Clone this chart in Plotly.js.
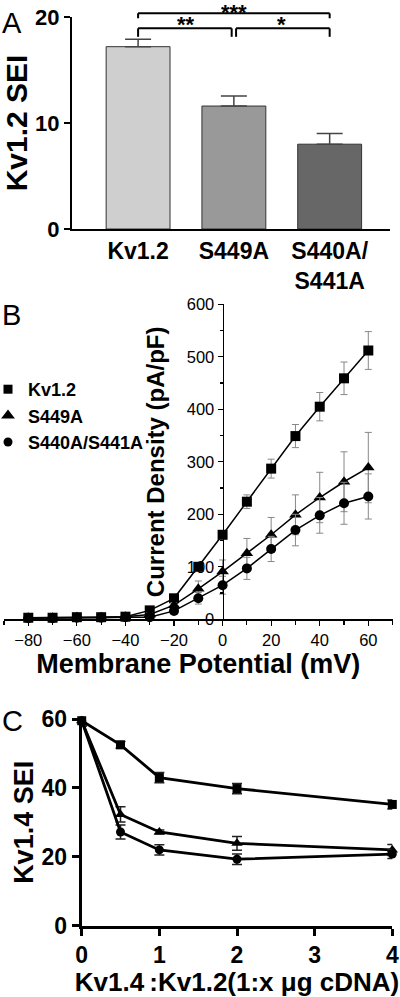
<!DOCTYPE html>
<html>
<head>
<meta charset="utf-8">
<script src="https://cdn.plot.ly/plotly-3.0.1.min.js"></script>
<style>
html,body{margin:0;padding:0;background:#fff;}
#chart{width:400px;height:997px;}
</style>
</head>
<body>
<div id="chart"></div>
<script>
// ---------- Panel A data ----------
const catsA = ['Kv1.2', 'S449A', 'S440A/<br>S441A'];
const seiA = [17.2, 11.6, 8.0];
const seiAErr = [0.7, 0.95, 1.0];
const sigPairs = [[0, 2], [0, 1], [1, 2]];
const sigLabels = ['***', '**', '*'];
const sigLevels = [20.35, 18.93, 18.93];

// ---------- Panel B data ----------
const voltB = [-80, -70, -60, -50, -40, -30, -20, -10, 0, 10, 20, 30, 40, 50, 60];
const kvB = [3, 3, 4, 4, 5, 17, 40, 100, 161, 224, 287, 349, 405, 459, 512];
const kvBErr = [1, 1, 1, 1, 1, 2, 3, 5, 8, 13, 18, 22, 27, 31, 36];
const s449B = [3, 3, 4, 4, 5, 9, 27, 58, 91, 126, 161, 199, 232, 262, 289];
const s449BErr = [1, 1, 1, 1, 1, 3, 5, 15, 22, 28, 33, 38, 48, 57, 67];
const s440B = [2, 2, 3, 3, 4, 4, 16, 40, 65, 97, 134, 170, 198, 221, 234];
const s440BErr = [1, 1, 1, 1, 1, 2, 4, 11, 17, 21, 24, 30, 34, 40, 43];
const seriesNames = ['Kv1.2', 'S449A', 'S440A/S441A'];

// ---------- Panel C data ----------
const ratioC = [0, 0.5, 1, 2, 4];
const kvC = [59.5, 52.5, 43.0, 39.8, 35.2];
const kvCErr = [1.5, 1.0, 1.5, 1.5, 1.3];
const s449C = [59.5, 32.3, 27.2, 23.9, 22.0];
const s449CErr = [1.5, 2.2, 0.6, 2.0, 1.6];
const s440C = [59.5, 27.2, 22.0, 19.3, 20.8];
const s440CErr = [1.5, 2.0, 1.5, 1.5, 1.3];

// ---------- styling ----------
const FONT = 'Arial, "Liberation Sans", Helvetica, sans-serif';
const barFills = ['#cfcfcf', '#999999', '#676767'];
const symbols = ['square', 'triangle-up', 'circle'];
const W = 400, H = 997;
const px = v => v / W;
const py = v => (H - v) / H;

const traces = [];

// Panel A bars
traces.push({
  type: 'bar', x: catsA, y: seiA, xaxis: 'x', yaxis: 'y',
  width: 0.667,
  marker: {color: barFills, line: {color: '#333', width: 1}},
  error_y: {type: 'data', array: seiAErr, arrayminus: seiA.map(() => 0), symmetric: false,
            color: '#444', thickness: 1.5, width: 13},
  showlegend: false, hoverinfo: 'skip'
});

// Panel B lines
const bSets = [[kvB, kvBErr], [s449B, s449BErr], [s440B, s440BErr]];
bSets.forEach((s, i) => {
  traces.push({
    type: 'scatter', mode: 'lines+markers', x: voltB, y: s[0], xaxis: 'x2', yaxis: 'y2',
    line: {color: '#000', width: 1.5},
    marker: {symbol: symbols[i], size: i === 1 ? 11 : 10, color: '#000'},
    error_y: {type: 'data', array: s[1], color: '#888', thickness: 1, width: 3.5},
    cliponaxis: false, showlegend: false, hoverinfo: 'skip'
  });
});
// Panel B legend entries (marker only)
seriesNames.forEach((n, i) => {
  traces.push({
    type: 'scatter', mode: 'markers', x: [null], y: [null], xaxis: 'x2', yaxis: 'y2',
    name: n,
    marker: {symbol: symbols[i], size: i === 1 ? 12 : 9, color: '#000'},
    showlegend: true, hoverinfo: 'skip'
  });
});

// Panel C lines
const cSets = [[kvC, kvCErr], [s449C, s449CErr], [s440C, s440CErr]];
cSets.forEach((s, i) => {
  traces.push({
    type: 'scatter', mode: 'lines+markers', x: ratioC, y: s[0], xaxis: 'x3', yaxis: 'y3',
    line: {color: '#000', width: 2.8},
    marker: {symbol: symbols[i], size: i === 1 ? 10 : 9, color: '#000'},
    error_y: {type: 'data', array: s[1], color: '#222', thickness: 1.5, width: 5},
    cliponaxis: false, showlegend: false, hoverinfo: 'skip'
  });
});

// Significance brackets (panel A), placed in axis-domain fractions
const xARange = [-0.69, 2.63];
const yARange = [0, 20];
const xDom = v => (v - xARange[0]) / (xARange[1] - xARange[0]);
const yDom = v => (v - yARange[0]) / (yARange[1] - yARange[0]);
const shapes = [];
const annotations = [];
sigPairs.forEach((p, k) => {
  const lvl = sigLevels[k];
  const drop = k === 0 ? 0.47 : 0.8;
  const x0 = p[0] + (k === 2 ? 0.023 : 0);
  const x1 = p[1] - (k === 1 ? 0.023 : 0);
  const seg = (xa, ya, xb, yb) => ({type: 'line', xref: 'x domain', yref: 'y domain',
    x0: xDom(xa), x1: xDom(xb), y0: yDom(ya), y1: yDom(yb), line: {color: '#000', width: 2}});
  shapes.push(seg(x0, lvl, x1, lvl));
  shapes.push(seg(x0, lvl, x0, lvl - drop));
  shapes.push(seg(x1, lvl, x1, lvl - drop));
  annotations.push({xref: 'x domain', yref: 'y domain', x: xDom((p[0] + p[1]) / 2), y: yDom(lvl),
    text: sigLabels[k], showarrow: false, yanchor: 'bottom', yshift: k === 0 ? -14 : -11,
    height: 23, valign: 'bottom',
    font: {family: FONT, size: 22, weight: 'bold', color: '#000'}});
});

// Panel letters
[['A', 5], ['B', 297], ['C', 703]].forEach(l => {
  annotations.push({xref: 'paper', yref: 'paper', x: 0, y: py(l[1]), xanchor: 'left', yanchor: 'top',
    text: l[0], showarrow: false, font: {family: FONT, size: 29, color: '#000'}});
});

const axBase = {showgrid: false, zeroline: false, color: '#000', linecolor: '#000', showline: true,
                fixedrange: true, automargin: false};

const layout = {
  width: W, height: H,
  margin: {l: 0, r: 0, t: 0, b: 0, autoexpand: false},
  paper_bgcolor: '#fff', plot_bgcolor: 'rgba(0,0,0,0)',
  font: {family: FONT, color: '#000'},
  showlegend: true,
  legend: {x: 0, y: py(371), xanchor: 'left', yanchor: 'top', bgcolor: 'rgba(0,0,0,0)',
           font: {family: FONT, size: 18, weight: 'bold'}, itemwidth: 30, indentation: -12,
           traceorder: 'normal'},
  // Panel A
  xaxis: Object.assign({}, axBase, {domain: [px(72), px(390)], anchor: 'y', type: 'category',
    range: xARange, linewidth: 2, ticks: '',
    tickfont: {family: FONT, size: 23, weight: 'bold'}}),
  yaxis: Object.assign({}, axBase, {domain: [py(229), py(17)], anchor: 'x', range: yARange, dtick: 10,
    ticks: 'outside', ticklen: 6, tickwidth: 2, linewidth: 2,
    tickfont: {family: FONT, size: 22, weight: 'bold'},
    title: {text: 'Kv1.2 SEI', font: {family: FONT, size: 30, weight: 'bold'}, standoff: 0}}),
  // Panel B
  xaxis2: Object.assign({}, axBase, {domain: [px(4), px(392.6)], anchor: 'y2', range: [-90, 70],
    tick0: 0, dtick: 20, ticks: 'outside', ticklen: 5, tickwidth: 1.2, linewidth: 1.5,
    minor: {dtick: 10, ticks: 'outside', ticklen: 4, tickwidth: 1.2, tickcolor: '#000'},
    tickfont: {family: FONT, size: 16.5},
    title: {text: 'Membrane Potential (mV)', font: {family: FONT, size: 27, weight: 'bold'}, standoff: 4}}),
  yaxis2: Object.assign({}, axBase, {domain: [py(619.3), py(304.3)], anchor: 'free',
    position: px(4 + 90 * 2.4286), range: [0, 600], dtick: 100, ticks: 'outside', ticklen: 5,
    tickwidth: 1.2, linewidth: 1.5,
    minor: {dtick: 50, ticks: 'outside', ticklen: 3, tickwidth: 1.2, tickcolor: '#000'},
    tickfont: {family: FONT, size: 16.5},
    title: {text: 'Current Density (pA/pF)', font: {family: FONT, size: 24, weight: 'bold'}, standoff: 14}}),
  // Panel C
  xaxis3: Object.assign({}, axBase, {domain: [px(81.7), px(392.3)], anchor: 'y3', range: [0, 4],
    dtick: 1, ticks: 'outside', ticklen: 7, tickwidth: 3, linewidth: 3,
    tickfont: {family: FONT, size: 23, weight: 'bold'},
    title: {text: 'Kv1.4\u2009:Kv1.2(1:x \u03bcg cDNA)', font: {family: FONT, size: 26, weight: 'bold'}, standoff: 2}}),
  yaxis3: Object.assign({}, axBase, {domain: [py(925.7), py(719)], anchor: 'x3', range: [0, 60],
    dtick: 20, ticks: 'outside', ticklen: 7, tickwidth: 3, linewidth: 3,
    tickfont: {family: FONT, size: 23, weight: 'bold'},
    title: {text: 'Kv1.4 SEI', font: {family: FONT, size: 27, weight: 'bold'}, standoff: 1}}),
  shapes: shapes,
  annotations: annotations
};

Plotly.newPlot('chart', traces, layout, {staticPlot: true, displayModeBar: false});
</script>
</body>
</html>
